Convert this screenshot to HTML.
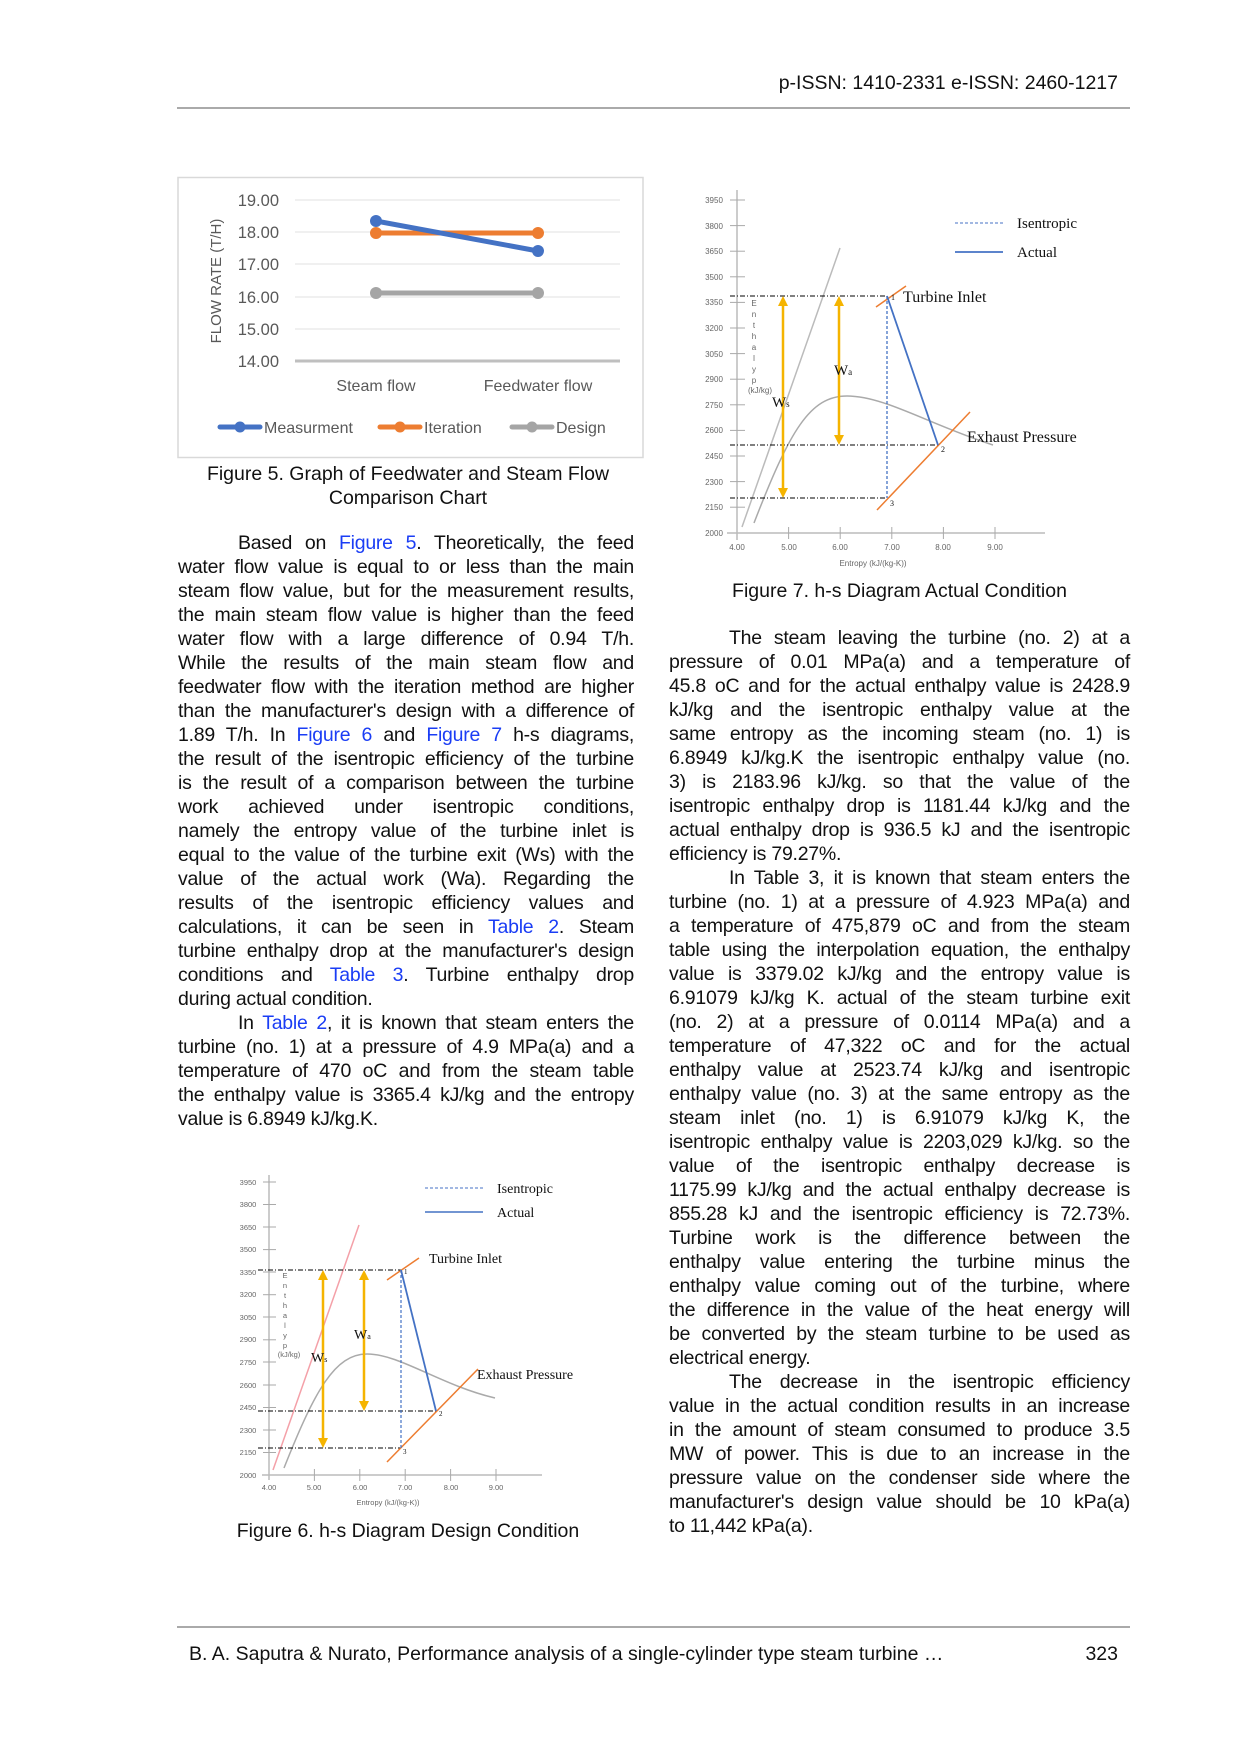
<!DOCTYPE html>
<html><head><meta charset="utf-8"><style>
body{margin:0;background:#fff;}
#pg{position:relative;width:1240px;height:1754px;overflow:hidden;background:#fff;font-family:"Liberation Sans",Arial,sans-serif;color:#111;}
.l{position:absolute;height:24px;line-height:24px;font-size:19.5px;text-align:justify;text-align-last:justify;white-space:nowrap;letter-spacing:-0.25px;}
.L{left:178px;width:456px;}
.R{left:669px;width:461px;}
.last{text-align-last:left;}
.ind.L{left:238px;width:396px;}
.ind.R{left:729px;width:401px;}
a,.b{color:#1a3df5;text-decoration:none;}
.cap{position:absolute;font-size:19.5px;text-align:center;line-height:24px;}
svg{position:absolute;left:0;top:0;}
</style></head><body><div id="pg">
<svg width="1240" height="1754" viewBox="0 0 1240 1754" font-family="Liberation Sans, Arial, sans-serif">
<!-- header/footer rules -->
<line x1="177" y1="108" x2="1130" y2="108" stroke="#777" stroke-width="1.2"/>
<line x1="177" y1="1627" x2="1130" y2="1627" stroke="#777" stroke-width="1.2"/>
<text x="1118" y="89" font-size="19.5" text-anchor="end" fill="#111">p-ISSN: 1410-2331  e-ISSN: 2460-1217</text>
<text x="189" y="1660" font-size="19.5" fill="#111">B. A. Saputra &amp; Nurato, Performance analysis of a single-cylinder type steam turbine …</text>
<text x="1118" y="1660" font-size="19.5" text-anchor="end" fill="#111">323</text>

<!-- Figure 5 -->
<rect x="178" y="177.5" width="465" height="280" fill="#fff" stroke="#d9d9d9" stroke-width="1.5"/>
<g stroke="#e8e8e8" stroke-width="1.2">
<line x1="295" y1="200" x2="620" y2="200"/><line x1="295" y1="232" x2="620" y2="232"/>
<line x1="295" y1="264" x2="620" y2="264"/><line x1="295" y1="297" x2="620" y2="297"/>
<line x1="295" y1="329" x2="620" y2="329"/></g>
<line x1="295" y1="361" x2="620" y2="361" stroke="#bfbfbf" stroke-width="3"/>
<g font-size="16.5" fill="#595959" text-anchor="end">
<text x="279" y="206">19.00</text><text x="279" y="238">18.00</text><text x="279" y="270">17.00</text>
<text x="279" y="303">16.00</text><text x="279" y="335">15.00</text><text x="279" y="367">14.00</text></g>
<text transform="translate(221,281) rotate(-90)" font-size="15" fill="#595959" text-anchor="middle">FLOW RATE (T/H)</text>
<g font-size="16" fill="#595959" text-anchor="middle"><text x="376" y="391">Steam flow</text><text x="538" y="391">Feedwater flow</text></g>
<g stroke-width="5" stroke-linecap="round">
<line x1="376" y1="293" x2="538" y2="293" stroke="#a5a5a5"/>
<line x1="376" y1="233" x2="538" y2="233" stroke="#ed7d31"/>
<line x1="376" y1="221" x2="538" y2="251" stroke="#4472c4"/></g>
<circle cx="376" cy="293" r="6" fill="#a5a5a5"/><circle cx="538" cy="293" r="6" fill="#a5a5a5"/>
<circle cx="376" cy="233" r="6" fill="#ed7d31"/><circle cx="538" cy="233" r="6" fill="#ed7d31"/>
<circle cx="376" cy="221" r="6" fill="#4472c4"/><circle cx="538" cy="251" r="6" fill="#4472c4"/>
<g stroke-width="5" stroke-linecap="round">
<line x1="220" y1="427" x2="260" y2="427" stroke="#4472c4"/>
<line x1="380" y1="427" x2="420" y2="427" stroke="#ed7d31"/>
<line x1="512" y1="427" x2="552" y2="427" stroke="#a5a5a5"/></g>
<circle cx="240" cy="427" r="5.5" fill="#4472c4"/><circle cx="400" cy="427" r="5.5" fill="#ed7d31"/><circle cx="532" cy="427" r="5.5" fill="#a5a5a5"/>
<g font-size="16" fill="#595959"><text x="264" y="433">Measurment</text><text x="424" y="433">Iteration</text><text x="556" y="433">Design</text></g>

<!-- Figure 7 -->
<g font-size="8" fill="#666" text-anchor="middle">
<line x1="737" y1="190" x2="737" y2="540" stroke="#bbb" stroke-width="1.5"/>
<line x1="727" y1="533" x2="1045" y2="533" stroke="#bbb" stroke-width="1.5"/>
<g stroke="#aaa"><line x1="730" y1="200" x2="745" y2="200"/><line x1="730" y1="225.6" x2="745" y2="225.6"/><line x1="730" y1="251.2" x2="745" y2="251.2"/><line x1="730" y1="276.8" x2="745" y2="276.8"/><line x1="730" y1="302.4" x2="745" y2="302.4"/><line x1="730" y1="328" x2="745" y2="328"/><line x1="730" y1="353.6" x2="745" y2="353.6"/><line x1="730" y1="379.2" x2="745" y2="379.2"/><line x1="730" y1="404.8" x2="745" y2="404.8"/><line x1="730" y1="430.4" x2="745" y2="430.4"/><line x1="730" y1="456" x2="745" y2="456"/><line x1="730" y1="481.6" x2="745" y2="481.6"/><line x1="730" y1="507.2" x2="745" y2="507.2"/>
<line x1="788.6" y1="527" x2="788.6" y2="539"/><line x1="840.2" y1="527" x2="840.2" y2="539"/><line x1="891.8" y1="527" x2="891.8" y2="539"/><line x1="943.4" y1="527" x2="943.4" y2="539"/><line x1="995" y1="527" x2="995" y2="539"/></g>
<text x="714" y="203">3950</text><text x="714" y="229">3800</text><text x="714" y="254">3650</text><text x="714" y="280">3500</text><text x="714" y="305">3350</text><text x="714" y="331">3200</text><text x="714" y="357">3050</text><text x="714" y="382">2900</text><text x="714" y="408">2750</text><text x="714" y="433">2600</text><text x="714" y="459">2450</text><text x="714" y="485">2300</text><text x="714" y="510">2150</text><text x="714" y="536">2000</text>
<text x="737" y="550">4.00</text><text x="789" y="550">5.00</text><text x="840" y="550">6.00</text><text x="892" y="550">7.00</text><text x="943" y="550">8.00</text><text x="995" y="550">9.00</text>
<text x="873" y="566">Entropy (kJ/(kg-K))</text>
<text x="754" y="306">E</text><text x="754" y="317">n</text><text x="754" y="328">t</text><text x="754" y="339">h</text><text x="754" y="350">a</text><text x="754" y="361">l</text><text x="754" y="372">y</text><text x="754" y="383">p</text><text x="760" y="393">(kJ/kg)</text>
</g>
<line x1="742" y1="527" x2="840" y2="248" stroke="#bbb" stroke-width="1.5"/>
<path d="M754,523 C790,430 810,396 847,396 C885,396 930,425 993,445" fill="none" stroke="#aaa" stroke-width="1.5"/>
<g stroke="#000" stroke-width="1" stroke-dasharray="5,2,1,2">
<line x1="730" y1="296" x2="887" y2="296"/><line x1="730" y1="445" x2="938" y2="445"/><line x1="730" y1="498" x2="887" y2="498"/></g>
<g stroke="#f5b400" stroke-width="2.5" fill="#f5b400">
<line x1="783" y1="303" x2="783" y2="491"/><path d="M778,306 L783,296 L788,306Z M778,488 L783,498 L788,488Z" stroke-width="0"/>
<line x1="839" y1="303" x2="839" y2="438"/><path d="M834,306 L839,296 L844,306Z M834,435 L839,445 L844,435Z" stroke-width="0"/></g>
<line x1="876" y1="307" x2="906" y2="286" stroke="#ed7d31" stroke-width="1.5"/>
<line x1="877" y1="510" x2="970" y2="412" stroke="#ed7d31" stroke-width="1.5"/>
<line x1="887" y1="296" x2="887" y2="498" stroke="#4472c4" stroke-width="1.3" stroke-dasharray="3,2"/>
<line x1="887" y1="296" x2="938" y2="445" stroke="#4472c4" stroke-width="1.8"/>
<line x1="955" y1="223" x2="1003" y2="223" stroke="#4472c4" stroke-width="1" stroke-dasharray="3,2"/>
<line x1="955" y1="252" x2="1003" y2="252" stroke="#4472c4" stroke-width="1.8"/>
<g font-family="Liberation Serif, serif" fill="#111">
<text x="1017" y="228" font-size="15">Isentropic</text><text x="1017" y="257" font-size="15">Actual</text>
<text x="903" y="302" font-size="16">Turbine Inlet</text><text x="967" y="442" font-size="16">Exhaust Pressure</text>
<text x="772" y="407" font-size="15">W<tspan font-size="9">s</tspan></text><text x="834" y="375" font-size="15">W<tspan font-size="9">a</tspan></text>
<text x="891" y="300" font-size="8">1</text><text x="941" y="452" font-size="8">2</text><text x="890" y="506" font-size="8">3</text></g>

<!-- Figure 6 -->
<g font-size="7.5" fill="#666" text-anchor="middle">
<line x1="269" y1="1175" x2="269" y2="1480" stroke="#bbb" stroke-width="1.5"/>
<line x1="262" y1="1475" x2="542" y2="1475" stroke="#bbb" stroke-width="1.5"/>
<g stroke="#aaa"><line x1="263" y1="1182" x2="276" y2="1182"/><line x1="263" y1="1204.5" x2="276" y2="1204.5"/><line x1="263" y1="1227" x2="276" y2="1227"/><line x1="263" y1="1249.6" x2="276" y2="1249.6"/><line x1="263" y1="1272" x2="276" y2="1272"/><line x1="263" y1="1294.7" x2="276" y2="1294.7"/><line x1="263" y1="1317" x2="276" y2="1317"/><line x1="263" y1="1339.8" x2="276" y2="1339.8"/><line x1="263" y1="1362" x2="276" y2="1362"/><line x1="263" y1="1385" x2="276" y2="1385"/><line x1="263" y1="1407.5" x2="276" y2="1407.5"/><line x1="263" y1="1430" x2="276" y2="1430"/><line x1="263" y1="1452.5" x2="276" y2="1452.5"/>
<line x1="314.4" y1="1469" x2="314.4" y2="1481"/><line x1="359.8" y1="1469" x2="359.8" y2="1481"/><line x1="405.2" y1="1469" x2="405.2" y2="1481"/><line x1="450.6" y1="1469" x2="450.6" y2="1481"/><line x1="496" y1="1469" x2="496" y2="1481"/></g>
<text x="248" y="1185">3950</text><text x="248" y="1207">3800</text><text x="248" y="1230">3650</text><text x="248" y="1252">3500</text><text x="248" y="1275">3350</text><text x="248" y="1297">3200</text><text x="248" y="1320">3050</text><text x="248" y="1342">2900</text><text x="248" y="1365">2750</text><text x="248" y="1388">2600</text><text x="248" y="1410">2450</text><text x="248" y="1433">2300</text><text x="248" y="1455">2150</text><text x="248" y="1478">2000</text>
<text x="269" y="1490">4.00</text><text x="314" y="1490">5.00</text><text x="360" y="1490">6.00</text><text x="405" y="1490">7.00</text><text x="451" y="1490">8.00</text><text x="496" y="1490">9.00</text>
<text x="388" y="1505">Entropy (kJ/(kg-K))</text>
<text x="285" y="1278">E</text><text x="285" y="1288">n</text><text x="285" y="1298">t</text><text x="285" y="1308">h</text><text x="285" y="1318">a</text><text x="285" y="1328">l</text><text x="285" y="1338">y</text><text x="285" y="1348">p</text><text x="289" y="1357">(kJ/kg)</text>
</g>
<line x1="273" y1="1470" x2="359" y2="1225" stroke="#f4a0a8" stroke-width="1.5"/>
<path d="M284,1468 C315,1390 335,1354 367,1354 C400,1354 440,1385 495,1398" fill="none" stroke="#aaa" stroke-width="1.5"/>
<g stroke="#000" stroke-width="1" stroke-dasharray="5,2,1,2">
<line x1="258" y1="1270" x2="401" y2="1270"/><line x1="258" y1="1411" x2="436" y2="1411"/><line x1="258" y1="1448" x2="401" y2="1448"/></g>
<g stroke="#f5b400" stroke-width="2.5" fill="#f5b400">
<line x1="323" y1="1277" x2="323" y2="1441"/><path d="M318,1280 L323,1270 L328,1280Z M318,1438 L323,1448 L328,1438Z" stroke-width="0"/>
<line x1="364" y1="1277" x2="364" y2="1404"/><path d="M359,1280 L364,1270 L369,1280Z M359,1401 L364,1411 L369,1401Z" stroke-width="0"/></g>
<line x1="387" y1="1280" x2="419" y2="1258" stroke="#ed7d31" stroke-width="1.5"/>
<line x1="387" y1="1462" x2="478" y2="1369" stroke="#ed7d31" stroke-width="1.5"/>
<line x1="401" y1="1270" x2="401" y2="1448" stroke="#4472c4" stroke-width="1.2" stroke-dasharray="3,2"/>
<line x1="401" y1="1270" x2="436" y2="1411" stroke="#4472c4" stroke-width="1.8"/>
<line x1="425" y1="1188" x2="483" y2="1188" stroke="#4472c4" stroke-width="1" stroke-dasharray="3,2"/>
<line x1="425" y1="1212" x2="483" y2="1212" stroke="#4472c4" stroke-width="1.5"/>
<g font-family="Liberation Serif, serif" fill="#111">
<text x="497" y="1193" font-size="14">Isentropic</text><text x="497" y="1217" font-size="14">Actual</text>
<text x="429" y="1263" font-size="14">Turbine Inlet</text><text x="477" y="1379" font-size="14">Exhaust Pressure</text>
<text x="311" y="1362" font-size="14">W<tspan font-size="8">s</tspan></text><text x="354" y="1339" font-size="14">W<tspan font-size="8">a</tspan></text>
<text x="404" y="1274" font-size="7">1</text><text x="439" y="1416" font-size="7">2</text><text x="403" y="1454" font-size="7">3</text></g>
</svg>

<div class="cap" style="left:178px;width:460px;top:462px;">Figure 5. Graph of Feedwater and Steam Flow<br>Comparison Chart</div>
<div class="cap" style="left:669px;width:461px;top:579px;">Figure 7. h-s Diagram Actual Condition</div>
<div class="cap" style="left:178px;width:460px;top:1519px;">Figure 6. h-s Diagram Design Condition</div>

<div class="l L ind" style="top:531px">Based on <span class="b">Figure 5</span>. Theoretically, the feed</div>
<div class="l L" style="top:555px">water flow value is equal to or less than the main</div>
<div class="l L" style="top:579px">steam flow value, but for the measurement results,</div>
<div class="l L" style="top:603px">the main steam flow value is higher than the feed</div>
<div class="l L" style="top:627px">water flow with a large difference of 0.94 T/h.</div>
<div class="l L" style="top:651px">While the results of the main steam flow and</div>
<div class="l L" style="top:675px">feedwater flow with the iteration method are higher</div>
<div class="l L" style="top:699px">than the manufacturer's design with a difference of</div>
<div class="l L" style="top:723px">1.89 T/h. In <span class="b">Figure 6</span> and <span class="b">Figure 7</span> h-s diagrams,</div>
<div class="l L" style="top:747px">the result of the isentropic efficiency of the turbine</div>
<div class="l L" style="top:771px">is the result of a comparison between the turbine</div>
<div class="l L" style="top:795px">work achieved under isentropic conditions,</div>
<div class="l L" style="top:819px">namely the entropy value of the turbine inlet is</div>
<div class="l L" style="top:843px">equal to the value of the turbine exit (Ws) with the</div>
<div class="l L" style="top:867px">value of the actual work (Wa). Regarding the</div>
<div class="l L" style="top:891px">results of the isentropic efficiency values and</div>
<div class="l L" style="top:915px">calculations, it can be seen in <span class="b">Table 2</span>. Steam</div>
<div class="l L" style="top:939px">turbine enthalpy drop at the manufacturer's design</div>
<div class="l L" style="top:963px">conditions and <span class="b">Table 3</span>. Turbine enthalpy drop</div>
<div class="l L last" style="top:987px">during actual condition.</div>
<div class="l L ind" style="top:1011px">In <span class="b">Table 2</span>, it is known that steam enters the</div>
<div class="l L" style="top:1035px">turbine (no. 1) at a pressure of 4.9 MPa(a) and a</div>
<div class="l L" style="top:1059px">temperature of 470 oC and from the steam table</div>
<div class="l L" style="top:1083px">the enthalpy value is 3365.4 kJ/kg and the entropy</div>
<div class="l L last" style="top:1107px">value is 6.8949 kJ/kg.K.</div>

<div class="l R ind" style="top:626px">The steam leaving the turbine (no. 2) at a</div>
<div class="l R" style="top:650px">pressure of 0.01 MPa(a) and a temperature of</div>
<div class="l R" style="top:674px">45.8 oC and for the actual enthalpy value is 2428.9</div>
<div class="l R" style="top:698px">kJ/kg and the isentropic enthalpy value at the</div>
<div class="l R" style="top:722px">same entropy as the incoming steam (no. 1) is</div>
<div class="l R" style="top:746px">6.8949 kJ/kg.K the isentropic enthalpy value (no.</div>
<div class="l R" style="top:770px">3) is 2183.96 kJ/kg. so that the value of the</div>
<div class="l R" style="top:794px">isentropic enthalpy drop is 1181.44 kJ/kg and the</div>
<div class="l R" style="top:818px">actual enthalpy drop is 936.5 kJ and the isentropic</div>
<div class="l R last" style="top:842px">efficiency is 79.27%.</div>
<div class="l R ind" style="top:866px">In Table 3, it is known that steam enters the</div>
<div class="l R" style="top:890px">turbine (no. 1) at a pressure of 4.923 MPa(a) and</div>
<div class="l R" style="top:914px">a temperature of 475,879 oC and from the steam</div>
<div class="l R" style="top:938px">table using the interpolation equation, the enthalpy</div>
<div class="l R" style="top:962px">value is 3379.02 kJ/kg and the entropy value is</div>
<div class="l R" style="top:986px">6.91079 kJ/kg K. actual of the steam turbine exit</div>
<div class="l R" style="top:1010px">(no. 2) at a pressure of 0.0114 MPa(a) and a</div>
<div class="l R" style="top:1034px">temperature of 47,322 oC and for the actual</div>
<div class="l R" style="top:1058px">enthalpy value at 2523.74 kJ/kg and isentropic</div>
<div class="l R" style="top:1082px">enthalpy value (no. 3) at the same entropy as the</div>
<div class="l R" style="top:1106px">steam inlet (no. 1) is 6.91079 kJ/kg K, the</div>
<div class="l R" style="top:1130px">isentropic enthalpy value is 2203,029 kJ/kg. so the</div>
<div class="l R" style="top:1154px">value of the isentropic enthalpy decrease is</div>
<div class="l R" style="top:1178px">1175.99 kJ/kg and the actual enthalpy decrease is</div>
<div class="l R" style="top:1202px">855.28 kJ and the isentropic efficiency is 72.73%.</div>
<div class="l R" style="top:1226px">Turbine work is the difference between the</div>
<div class="l R" style="top:1250px">enthalpy value entering the turbine minus the</div>
<div class="l R" style="top:1274px">enthalpy value coming out of the turbine, where</div>
<div class="l R" style="top:1298px">the difference in the value of the heat energy will</div>
<div class="l R" style="top:1322px">be converted by the steam turbine to be used as</div>
<div class="l R last" style="top:1346px">electrical energy.</div>
<div class="l R ind" style="top:1370px">The decrease in the isentropic efficiency</div>
<div class="l R" style="top:1394px">value in the actual condition results in an increase</div>
<div class="l R" style="top:1418px">in the amount of steam consumed to produce 3.5</div>
<div class="l R" style="top:1442px">MW of power. This is due to an increase in the</div>
<div class="l R" style="top:1466px">pressure value on the condenser side where the</div>
<div class="l R" style="top:1490px">manufacturer's design value should be 10 kPa(a)</div>
<div class="l R last" style="top:1514px">to 11,442 kPa(a).</div>
</div></body></html>
